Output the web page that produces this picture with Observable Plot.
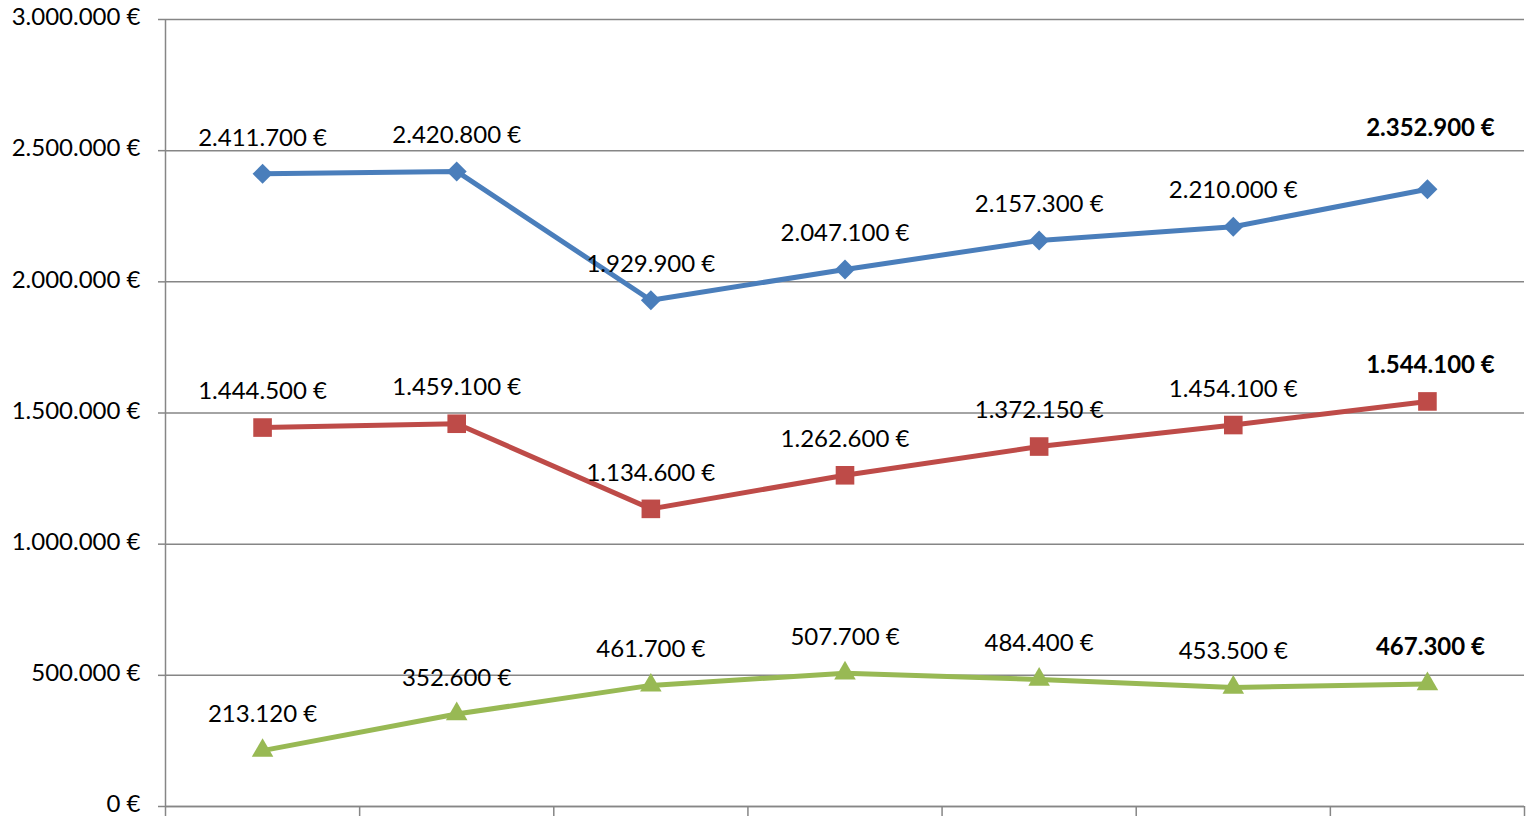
<!DOCTYPE html>
<html>
<head>
<meta charset="utf-8">
<script src="https://cdn.jsdelivr.net/npm/d3@7"></script>
<script src="https://cdn.jsdelivr.net/npm/@observablehq/plot@0.6"></script>
<style>
  html, body { margin: 0; padding: 0; background: #fff; }
  #chart svg { display: block; }
</style>
</head>
<body>
<div id="chart"></div>
<script>
// Data
const categories = ["1", "2", "3", "4", "5", "6", "7"];
const blueValues  = [2411700, 2420800, 1929900, 2047100, 2157300, 2210000, 2352900];
const redValues   = [1444500, 1459100, 1134600, 1262600, 1372150, 1454100, 1544100];
const greenValues = [213120, 352600, 461700, 507700, 484400, 453500, 467300];
const yTicks = [0, 500000, 1000000, 1500000, 2000000, 2500000, 3000000];

const seriesDefs = [
  {name: "A", values: blueValues,  color: "#4A7EBB", symbol: "diamond2", r: 9, lastDy: -61},
  {name: "B", values: redValues,   color: "#BE4B48", symbol: "square",   r: 10.5, lastDy: -36},
  {name: "C", values: greenValues, color: "#98B954", symbol: "triangle", r: 8, lastDy: -37}
];

const rows = seriesDefs.flatMap(s => s.values.map((v, i) => ({
  series: s.name, i, cat: categories[i], value: v,
  last: i === categories.length - 1
})));

const locale = d3.formatLocale({decimal: ",", thousands: ".", grouping: [3], currency: ["", " €"]});
const fmt = v => locale.format(",d")(v) + " €";

const boundaries = d3.range(categories.length + 1).map(i => i - 0.5);
const font = "Lato, 'Open Sans', sans-serif";

const marks = [
  Plot.gridY(yTicks, {stroke: "#868686", strokeOpacity: 1, strokeWidth: 1.5}),
  // tick marks only
  Plot.axisY(yTicks, {tickFormat: () => "", tickSize: 7, stroke: "#868686", strokeWidth: 1.5, label: null}),
  // tick labels, nudged up slightly so the bottom one stays inside the picture
  Plot.axisY(yTicks, {tickFormat: fmt, tickSize: 0, tickPadding: 25, fontSize: 24, fill: "#000",
    label: null, dy: -2}),
  Plot.axisX(boundaries, {tickFormat: () => "", tickSize: 12, stroke: "#868686", strokeWidth: 1.5, label: null}),
  Plot.ruleX([-0.5], {stroke: "#868686", strokeWidth: 1.5}),
  Plot.ruleY([0], {stroke: "#868686", strokeWidth: 1.5})
];

for (const s of seriesDefs) {
  const d = rows.filter(r => r.series === s.name);
  marks.push(Plot.line(d, {x: "i", y: "value", stroke: s.color, strokeWidth: 5}));
  marks.push(Plot.dot(d, {x: "i", y: "value", fill: s.color, stroke: null, symbol: () => s.symbol, r: s.r}));
  marks.push(Plot.text(d.filter(r => !r.last), {x: "i", y: "value", text: r => fmt(r.value), dy: -36,
    fontSize: 24, fill: "#000"}));
  marks.push(Plot.text(d.filter(r => r.last), {x: "i", y: "value", text: r => fmt(r.value), dy: s.lastDy,
    dx: 3, fontSize: 24, fontWeight: "bold", fill: "#000"}));
}

const chart = Plot.plot({
  width: 1526,
  height: 816,
  marginLeft: 165,
  marginRight: 2,
  marginTop: 19,
  marginBottom: 10,
  style: {fontFamily: font, background: "#fff", overflow: "visible"},
  x: {type: "linear", domain: [-0.5, categories.length - 0.5], axis: null},
  y: {domain: [0, 3000000], axis: null},
  symbol: {type: "identity"},
  marks
});
document.getElementById("chart").appendChild(chart);
</script>
</body>
</html>
